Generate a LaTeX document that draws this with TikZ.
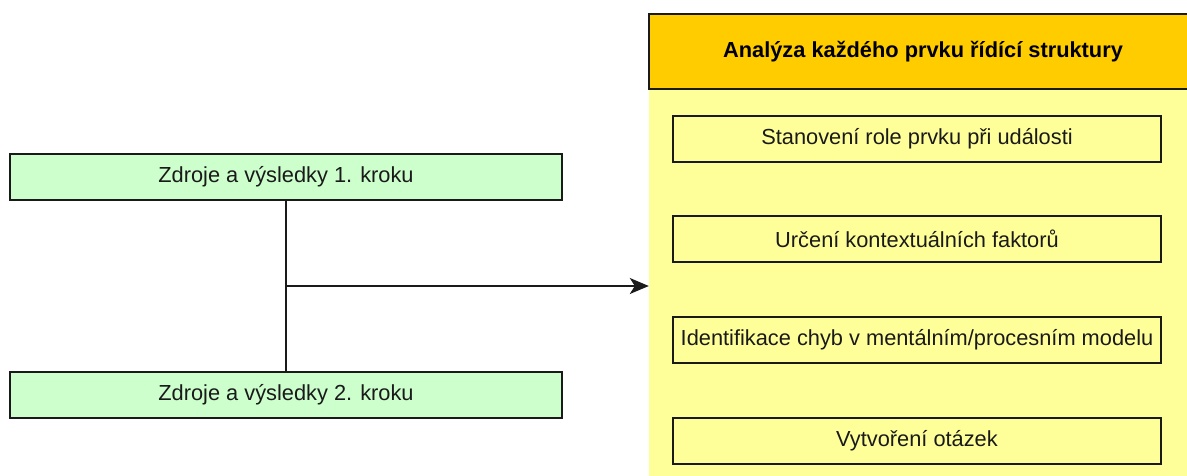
\documentclass[tikz,border=0pt]{standalone}
\usepackage{fontspec}
\setmainfont{Liberation Sans}
\usetikzlibrary{arrows.meta}
\definecolor{srcgreen}{HTML}{CCFFCC}
\definecolor{panelyellow}{HTML}{FFFF99}
\definecolor{headorange}{HTML}{FFCC00}
\definecolor{ink}{HTML}{1A1A1A}
\begin{document}
\begin{tikzpicture}[x=1pt,y=-1pt,
  box/.style={draw=ink, line width=1.6pt, inner sep=0pt, minimum height=46pt,
    text=ink, font=\fontsize{21.8}{26}\selectfont},
  srcbox/.style={box, fill=srcgreen, minimum width=552pt},
  itembox/.style={box, minimum width=488pt},
  link/.style={draw=ink, line width=1.5pt},
  arrowlink/.style={link, -{Stealth[length=19pt,width=16pt,inset=5pt]}}]
\useasboundingbox (0,0) rectangle (1187,475);
\begin{scope}
\clip (0,0) rectangle (1187,475);
% right panel: yellow body and orange title bar
\node[fill=panelyellow, inner sep=0pt, minimum width=548pt, minimum height=402pt] (body) at (923,289) {};
\node[draw=ink, line width=1.6pt, fill=headorange, inner sep=0pt, minimum width=548pt, minimum height=75pt,
  text=black, font=\fontsize{21.8}{26}\selectfont\bfseries] (head) at (923,51.5) {Analýza každého prvku řídící struktury};
\end{scope}
% tasks inside the panel
\node[itembox] (i1) at (917,139) {Stanovení role prvku při události};
\node[itembox] (i2) at (917,239) {Určení kontextuálních faktorů};
\node[itembox] (i3) at (917,340) {Identifikace chyb v mentálním/procesním modelu};
\node[itembox] (i4) at (917,441) {Vytvoření otázek};
% sources on the left
\node[srcbox] (s1) at (286,177) {Zdroje a výsledky 1. kroku};
\node[srcbox] (s2) at (286,395) {Zdroje a výsledky 2. kroku};
% joining line and arrow into the panel
\draw[link] (s1.south) -- (s2.north);
\coordinate (j) at (286,286);
\draw[arrowlink] (j) -- (j -| body.west);
\end{tikzpicture}
\end{document}
